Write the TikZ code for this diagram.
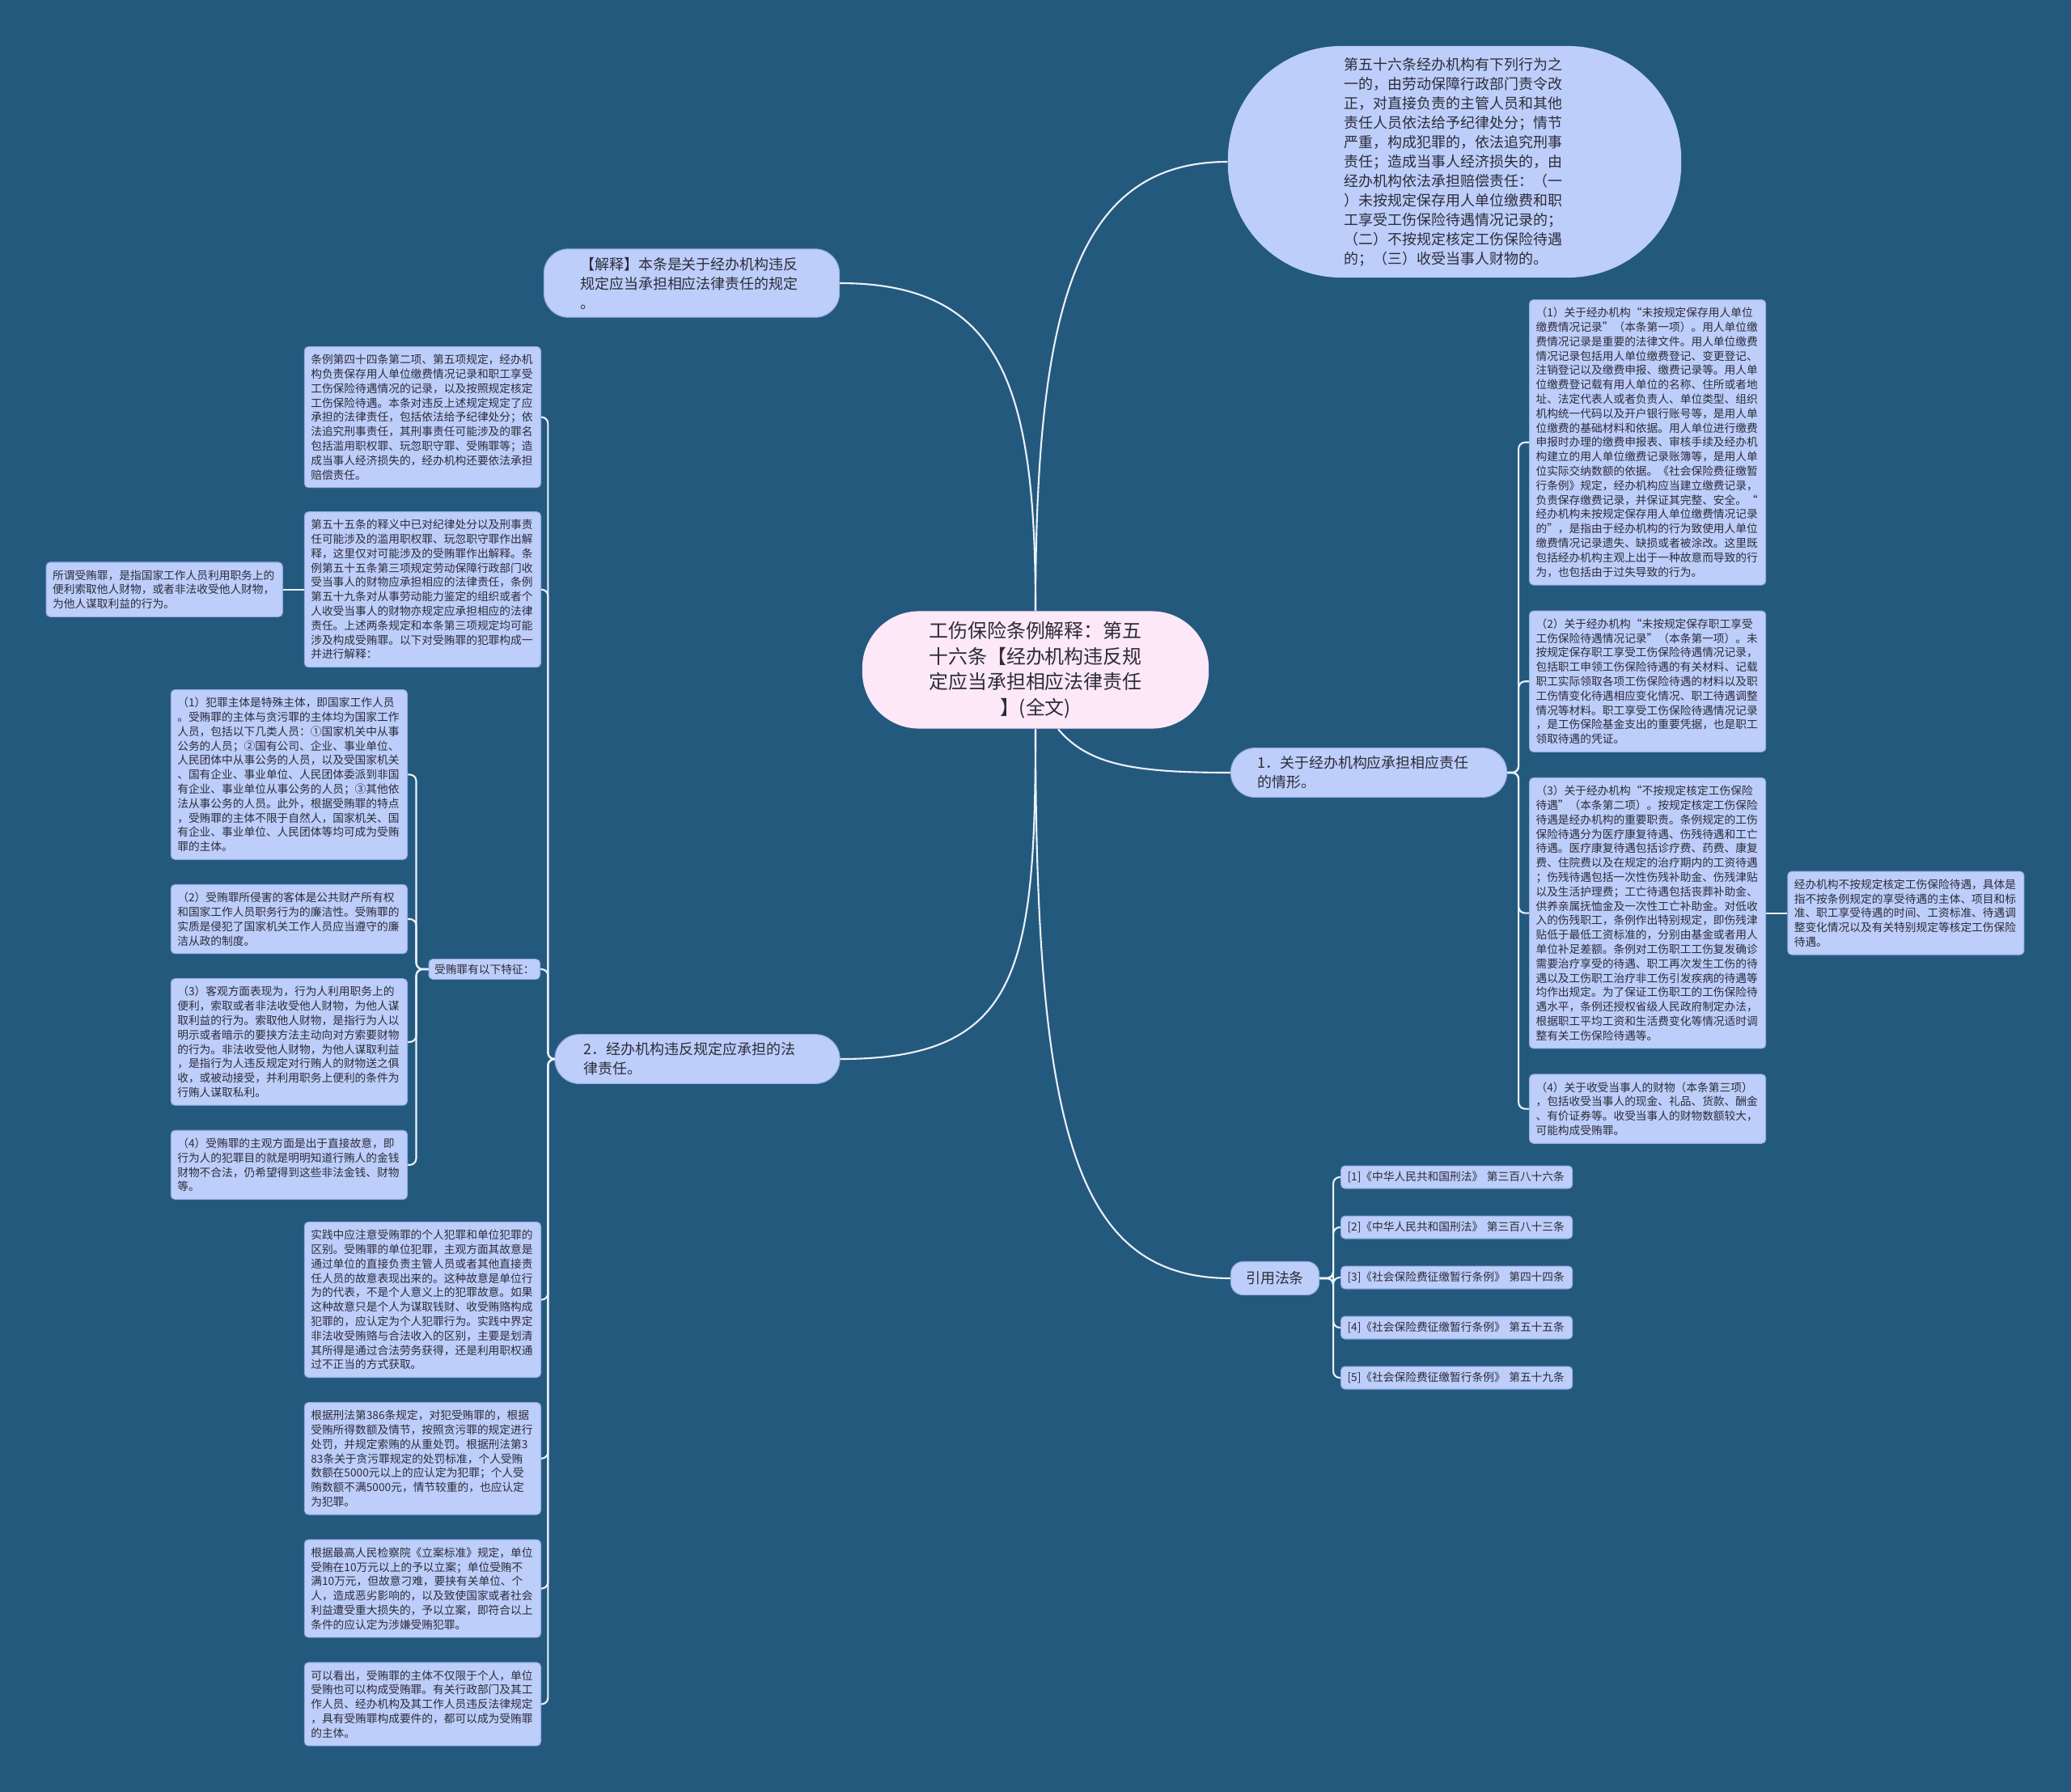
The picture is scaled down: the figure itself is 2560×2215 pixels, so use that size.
\documentclass[tikz,border=0pt]{standalone}
\usepackage{fontspec}
\setmainfont{Noto Sans CJK SC}
\usetikzlibrary{positioning,calc}

\definecolor{bgblue}{RGB}{36,89,126}
\definecolor{boxblue}{RGB}{189,206,250}
\definecolor{boxline}{RGB}{150,172,228}
\definecolor{rootpink}{RGB}{253,232,248}
\definecolor{inkgray}{RGB}{44,44,56}
\definecolor{linkwhite}{RGB}{236,241,249}

\newcommand{\notefont}{\fontsize{3.9pt}{5.06pt}\selectfont}
\newcommand{\branchfont}{\fontsize{5.1pt}{6.83pt}\selectfont}
\newcommand{\rootfont}{\fontsize{6.8pt}{8.96pt}\selectfont}

\tikzset{
  note/.style={draw=boxline, line width=0.3pt, fill=boxblue, rounded corners=0.05cm,
    text=inkgray, font=\notefont, align=left, text width=2.76cm,
    inner xsep=0.08cm, inner ysep=0.095cm},
  tag/.style={draw=boxline, line width=0.3pt, fill=boxblue, rounded corners=0.05cm,
    text=inkgray, font=\notefont, align=left, inner xsep=0.07cm, inner ysep=0.06cm},
  branch/.style={draw=boxline, line width=0.3pt, fill=boxblue, text=inkgray,
    font=\branchfont, align=left, inner ysep=0.1cm},
  link/.style={draw=linkwhite, line width=0.6pt},
}

\begin{document}
\begin{tikzpicture}[x=0.01cm, y=-0.01cm]
  % Background
  \fill[bgblue] (0,0) rectangle (2560,2215);
  \useasboundingbox (0,0) rectangle (2560,2215);

  % Define nodes
  \node[fill=rootpink, rounded corners=0.7cm, text=inkgray,
    font=\rootfont, align=center, text width=2.7cm, minimum width=4.28cm,
    minimum height=1.45cm] (root) at (1280,828)
    {工伤保险条例解释：第五\\十六条【经办机构违反规\\定应当承担相应法律责任\\】(全文)};

  \node[branch, draw=none, rounded corners=1.4cm, text width=2.72cm, minimum width=5.6cm,
    minimum height=2.86cm] (article) at (1798,200)
    {第五十六条经办机构有下列行为之\\
     一的，由劳动保障行政部门责令改\\
     正，对直接负责的主管人员和其他\\
     责任人员依法给予纪律处分；情节\\
     严重，构成犯罪的，依法追究刑事\\
     责任；造成当事人经济损失的，由\\
     经办机构依法承担赔偿责任：（一\\
     ）未按规定保存用人单位缴费和职\\
     工享受工伤保险待遇情况记录的；\\
     （二）不按规定核定工伤保险待遇\\
     的；（三）收受当事人财物的。};

  \node[branch, rounded corners=0.3cm, text width=2.75cm, inner xsep=0.45cm] (expl) at (855,350)
    {【解释】本条是关于经办机构违反\\规定应当承担相应法律责任的规定\\。};

  \node[branch, rounded corners=0.3cm, text width=2.75cm, inner xsep=0.33cm] (one) at (1692,955)
    {1．关于经办机构应承担相应责任\\的情形。};

  \node[branch, rounded corners=0.3cm, text width=2.8cm, inner xsep=0.36cm] (two) at (862,1309)
    {2．经办机构违反规定应承担的法\\律责任。};

  \node[branch, rounded corners=0.15cm, align=center, minimum width=1.09cm,
    minimum height=0.41cm, inner xsep=0.1cm, inner ysep=0.05cm] (cite) at (1576,1580) {引用法条};

  % right column
  \node[note, anchor=north west] (dutyA) at (1890,370)
    {（1）关于经办机构“未按规定保存用人单位\\
     缴费情况记录”（本条第一项）。用人单位缴\\
     费情况记录是重要的法律文件。用人单位缴费\\
     情况记录包括用人单位缴费登记、变更登记、\\
     注销登记以及缴费申报、缴费记录等。用人单\\
     位缴费登记载有用人单位的名称、住所或者地\\
     址、法定代表人或者负责人、单位类型、组织\\
     机构统一代码以及开户银行账号等，是用人单\\
     位缴费的基础材料和依据。用人单位进行缴费\\
     申报时办理的缴费申报表、审核手续及经办机\\
     构建立的用人单位缴费记录账簿等，是用人单\\
     位实际交纳数额的依据。《社会保险费征缴暂\\
     行条例》规定，经办机构应当建立缴费记录，\\
     负责保存缴费记录，并保证其完整、安全。“\\
     经办机构未按规定保存用人单位缴费情况记录\\
     的”，是指由于经办机构的行为致使用人单位\\
     缴费情况记录遗失、缺损或者被涂改。这里既\\
     包括经办机构主观上出于一种故意而导致的行\\
     为，也包括由于过失导致的行为。};
  \node[note, below=0.31cm of dutyA] (dutyB)
    {（2）关于经办机构“未按规定保存职工享受\\
     工伤保险待遇情况记录”（本条第一项）。未\\
     按规定保存职工享受工伤保险待遇情况记录，\\
     包括职工申领工伤保险待遇的有关材料、记载\\
     职工实际领取各项工伤保险待遇的材料以及职\\
     工伤情变化待遇相应变化情况、职工待遇调整\\
     情况等材料。职工享受工伤保险待遇情况记录\\
     ，是工伤保险基金支出的重要凭据，也是职工\\
     领取待遇的凭证。};
  \node[note, below=0.31cm of dutyB] (dutyC)
    {（3）关于经办机构“不按规定核定工伤保险\\
     待遇”（本条第二项）。按规定核定工伤保险\\
     待遇是经办机构的重要职责。条例规定的工伤\\
     保险待遇分为医疗康复待遇、伤残待遇和工亡\\
     待遇。医疗康复待遇包括诊疗费、药费、康复\\
     费、住院费以及在规定的治疗期内的工资待遇\\
     ；伤残待遇包括一次性伤残补助金、伤残津贴\\
     以及生活护理费；工亡待遇包括丧葬补助金、\\
     供养亲属抚恤金及一次性工亡补助金。对低收\\
     入的伤残职工，条例作出特别规定，即伤残津\\
     贴低于最低工资标准的，分别由基金或者用人\\
     单位补足差额。条例对工伤职工工伤复发确诊\\
     需要治疗享受的待遇、职工再次发生工伤的待\\
     遇以及工伤职工治疗非工伤引发疾病的待遇等\\
     均作出规定。为了保证工伤职工的工伤保险待\\
     遇水平，条例还授权省级人民政府制定办法，\\
     根据职工平均工资和生活费变化等情况适时调\\
     整有关工伤保险待遇等。};
  \node[note, below=0.31cm of dutyC] (dutyD)
    {（4）关于收受当事人的财物（本条第三项）\\
     ，包括收受当事人的现金、礼品、货款、酬金\\
     、有价证券等。收受当事人的财物数额较大，\\
     可能构成受贿罪。};
  \node[note, right=0.26cm of dutyC] (dutyNote)
    {经办机构不按规定核定工伤保险待遇，具体是\\
     指不按条例规定的享受待遇的主体、项目和标\\
     准、职工享受待遇的时间、工资标准、待遇调\\
     整变化情况以及有关特别规定等核定工伤保险\\
     待遇。};

  % left column
  \node[note, anchor=north east] (lawA) at (669,428)
    {条例第四十四条第二项、第五项规定，经办机\\
     构负责保存用人单位缴费情况记录和职工享受\\
     工伤保险待遇情况的记录，以及按照规定核定\\
     工伤保险待遇。本条对违反上述规定规定了应\\
     承担的法律责任，包括依法给予纪律处分；依\\
     法追究刑事责任，其刑事责任可能涉及的罪名\\
     包括滥用职权罪、玩忽职守罪、受贿罪等；造\\
     成当事人经济损失的，经办机构还要依法承担\\
     赔偿责任。};
  \node[note, below=0.29cm of lawA] (lawB)
    {第五十五条的释义中已对纪律处分以及刑事责\\
     任可能涉及的滥用职权罪、玩忽职守罪作出解\\
     释，这里仅对可能涉及的受贿罪作出解释。条\\
     例第五十五条第三项规定劳动保障行政部门收\\
     受当事人的财物应承担相应的法律责任，条例\\
     第五十九条对从事劳动能力鉴定的组织或者个\\
     人收受当事人的财物亦规定应承担相应的法律\\
     责任。上述两条规定和本条第三项规定均可能\\
     涉及构成受贿罪。以下对受贿罪的犯罪构成一\\
     并进行解释：};
  \node[note, left=0.26cm of lawB] (define)
    {所谓受贿罪，是指国家工作人员利用职务上的\\
     便利索取他人财物，或者非法收受他人财物，\\
     为他人谋取利益的行为。};

  \node[tag, anchor=east] (traits) at (668,1198) {受贿罪有以下特征：};

  \node[note, anchor=north east] (featA) at (504,852)
    {（1）犯罪主体是特殊主体，即国家工作人员\\
     。受贿罪的主体与贪污罪的主体均为国家工作\\
     人员，包括以下几类人员：①国家机关中从事\\
     公务的人员；②国有公司、企业、事业单位、\\
     人民团体中从事公务的人员，以及受国家机关\\
     、国有企业、事业单位、人民团体委派到非国\\
     有企业、事业单位从事公务的人员；③其他依\\
     法从事公务的人员。此外，根据受贿罪的特点\\
     ，受贿罪的主体不限于自然人，国家机关、国\\
     有企业、事业单位、人民团体等均可成为受贿\\
     罪的主体。};
  \node[note, below=0.3cm of featA] (featB)
    {（2）受贿罪所侵害的客体是公共财产所有权\\
     和国家工作人员职务行为的廉洁性。受贿罪的\\
     实质是侵犯了国家机关工作人员应当遵守的廉\\
     洁从政的制度。};
  \node[note, below=0.3cm of featB] (featC)
    {（3）客观方面表现为，行为人利用职务上的\\
     便利，索取或者非法收受他人财物，为他人谋\\
     取利益的行为。索取他人财物，是指行为人以\\
     明示或者暗示的要挟方法主动向对方索要财物\\
     的行为。非法收受他人财物，为他人谋取利益\\
     ，是指行为人违反规定对行贿人的财物送之俱\\
     收，或被动接受，并利用职务上便利的条件为\\
     行贿人谋取私利。};
  \node[note, below=0.3cm of featC] (featD)
    {（4）受贿罪的主观方面是出于直接故意，即\\
     行为人的犯罪目的就是明明知道行贿人的金钱\\
     财物不合法，仍希望得到这些非法金钱、财物\\
     等。};

  \node[note, anchor=north east] (caseA) at (669,1510)
    {实践中应注意受贿罪的个人犯罪和单位犯罪的\\
     区别。受贿罪的单位犯罪，主观方面其故意是\\
     通过单位的直接负责主管人员或者其他直接责\\
     任人员的故意表现出来的。这种故意是单位行\\
     为的代表，不是个人意义上的犯罪故意。如果\\
     这种故意只是个人为谋取钱财、收受贿赂构成\\
     犯罪的，应认定为个人犯罪行为。实践中界定\\
     非法收受贿赂与合法收入的区别，主要是划清\\
     其所得是通过合法劳务获得，还是利用职权通\\
     过不正当的方式获取。};
  \node[note, below=0.3cm of caseA] (caseB)
    {根据刑法第386条规定，对犯受贿罪的，根据\\
     受贿所得数额及情节，按照贪污罪的规定进行\\
     处罚，并规定索贿的从重处罚。根据刑法第3\\
     83条关于贪污罪规定的处罚标准，个人受贿\\
     数额在5000元以上的应认定为犯罪；个人受\\
     贿数额不满5000元，情节较重的，也应认定\\
     为犯罪。};
  \node[note, below=0.3cm of caseB] (caseC)
    {根据最高人民检察院《立案标准》规定，单位\\
     受贿在10万元以上的予以立案；单位受贿不\\
     满10万元，但故意刁难，要挟有关单位、个\\
     人，造成恶劣影响的，以及致使国家或者社会\\
     利益遭受重大损失的，予以立案，即符合以上\\
     条件的应认定为涉嫌受贿犯罪。};
  \node[note, below=0.3cm of caseC] (caseD)
    {可以看出，受贿罪的主体不仅限于个人，单位\\
     受贿也可以构成受贿罪。有关行政部门及其工\\
     作人员、经办机构及其工作人员违反法律规定\\
     ，具有受贿罪构成要件的，都可以成为受贿罪\\
     的主体。};

  % cited laws
  \foreach \i/\law in {1/{[1]《中华人民共和国刑法》 第三百八十六条},
                       2/{[2]《中华人民共和国刑法》 第三百八十三条},
                       3/{[3]《社会保险费征缴暂行条例》 第四十四条},
                       4/{[4]《社会保险费征缴暂行条例》 第五十五条},
                       5/{[5]《社会保险费征缴暂行条例》 第五十九条}}
    \node[note, anchor=west, inner ysep=0.07cm, text width=2.7cm] (ref\i) at (1657,{1455+62*(\i-1)}) {\law};

  % Connect the nodes
  \draw[link] (root.north) .. controls (1280,380) and (1330,200) .. (article.west);
  \draw[link] (root.north) .. controls (1280,480) and (1240,350) .. (expl.east);
  \draw[link] ($(root.south)+(28,0)$) .. controls (1345,945) and (1400,955) .. (one.west);
  \draw[link] (root.south) .. controls (1280,1200) and (1260,1309) .. (two.east);
  \draw[link] (root.south) .. controls (1280,1400) and (1330,1580) .. (cite.west);

  \foreach \n in {dutyA,dutyB,dutyC,dutyD}
    \draw[link, rounded corners=0.08cm] (one.east) -- ++(14,0) |- (\n.west);
  \draw[link] (dutyC.east) -- (dutyNote.west);

  \foreach \n in {lawA,lawB,traits,caseA,caseB,caseC,caseD}
    \draw[link, rounded corners=0.08cm] (two.west) -- ++(-8,0) |- (\n.east);
  \draw[link] (lawB.west) -- (define.east);

  \foreach \n in {featA,featB,featC,featD}
    \draw[link, rounded corners=0.08cm] (traits.west) -- ++(-15,0) |- (\n.east);

  \foreach \i in {1,...,5}
    \draw[link, rounded corners=0.08cm] (cite.east) -- ++(17,0) |- (ref\i.west);
\end{tikzpicture}
\end{document}
